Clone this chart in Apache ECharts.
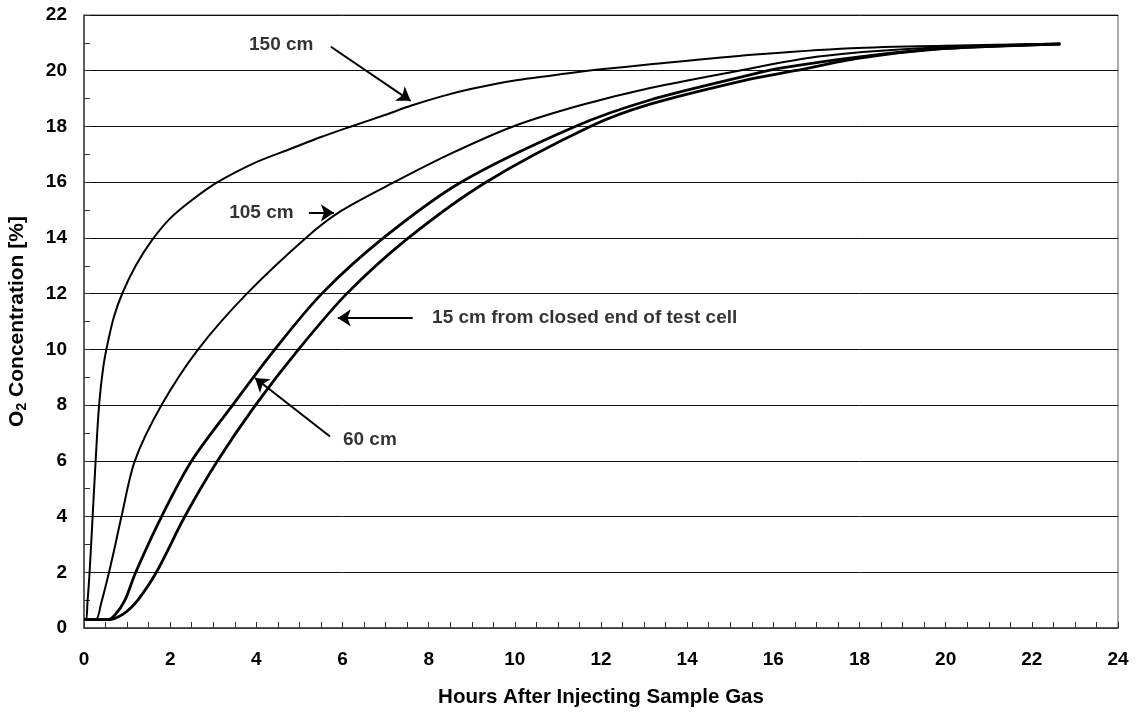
<!DOCTYPE html>
<html>
<head>
<meta charset="utf-8">
<script src="https://cdn.jsdelivr.net/npm/echarts@6/dist/echarts.min.js"></script>
<style>
html,body{margin:0;padding:0;background:#fff;}
#chart{width:1140px;height:713px;}
</style>
</head>
<body>
<div id="chart"></div>
<script>
// ---- data (hours, O2 %) ----
const curve150 = [[0,0.3],[0.05,0.3],[0.08,0.9],[0.13,2],[0.2,4],[0.27,6],[0.35,8],[0.45,9.4],[0.56,10.3],[0.7,11.2],[0.9,12.05],[1.2,13.0],[1.57,13.9],[2.0,14.7],[2.5,15.35],[3.1,16],[4.0,16.72],[4.8,17.2],[5.5,17.62],[6.2,18],[7.0,18.42],[7.6,18.75],[8.3,19.08],[9.0,19.35],[10.0,19.65],[11.2,19.9],[12.0,20.05],[13.1,20.22],[15.5,20.57],[17.8,20.81],[20.0,20.9],[22.66,20.96]];
const curve105 = [[0,0.3],[0.27,0.3],[0.4,0.9],[0.55,1.8],[0.7,2.8],[0.87,4],[1.18,6],[1.8,8],[2.65,10],[3.78,12],[5.15,14],[5.95,14.95],[7.2,16],[8.55,17.05],[9.96,18],[11.5,18.75],[13.14,19.38],[15.2,20],[17.0,20.5],[19.3,20.8],[22.66,20.96]];
const curve60 = [[0,0.3],[0.55,0.3],[0.72,0.47],[0.95,1],[1.2,2],[1.8,4],[2.5,6],[3.45,8],[4.43,10],[5.52,12],[6.95,14],[8.75,16],[11.4,18],[13.14,18.95],[15.46,19.85],[16.2,20.1],[18.0,20.5],[20.0,20.8],[22.66,20.96]];
const curve15 = [[0,0.3],[0.6,0.3],[0.8,0.4],[1.0,0.6],[1.25,1.0],[1.68,2],[2.34,4],[3.1,6],[3.98,8],[4.98,10],[6.1,12],[7.53,14],[9.33,16],[11.75,18],[13.14,18.8],[15.46,19.7],[16.5,20],[18.0,20.45],[20.0,20.8],[22.66,20.96]];

const xTicks = [0,2,4,6,8,10,12,14,16,18,20,22,24];
const yTicks = [0,2,4,6,8,10,12,14,16,18,20,22];

// annotation texts and arrows (in data units)
const labelTexts = ['150 cm','105 cm','15 cm from closed end of test cell','60 cm'];
const labelAnchors = [[3.83,20.93],[3.37,14.9],[8.08,11.13],[6.01,6.75]];
const arrows = [
  [[5.73,20.86],[7.58,18.92]],
  [[5.22,14.9],[5.8,14.9]],
  [[7.63,11.13],[5.89,11.13]],
  [[5.71,6.87],[3.97,8.97]]
];

const FONT = '"Liberation Sans", Arial, sans-serif';
const chart = echarts.init(document.getElementById('chart'));

function lineSeries(name, data, width){
  return {
    name, type:'line', data, showSymbol:false, symbol:'none',
    smooth:0.3,
    lineStyle:{color:'#000', width}, z:3, animation:false
  };
}

const option = {
  animation:false,
  backgroundColor:'#fff',
  grid:{left:84, right:22, top:15, bottom:85, show:true, borderColor:'#555', borderWidth:1,
        containLabel:false, outerBoundsMode:'none'},
  xAxis:{
    type:'value', min:0, max:24, interval:2,
    axisLine:{show:true, lineStyle:{color:'#444', width:1.5}},
    axisTick:{show:true, inside:true, length:6, lineStyle:{color:'#333'}},
    minorTick:{show:true, splitNumber:4, length:6, lineStyle:{color:'#333'}},
    splitLine:{show:false},
    axisLabel:{
      color:'#000', fontSize:19, fontWeight:'bold', fontFamily:FONT, margin:22,
      formatter:(v)=> xTicks.includes(v) ? String(v) : ''
    },
    name:'Hours After Injecting Sample Gas', nameLocation:'middle', nameGap:59,
    nameTextStyle:{color:'#000', fontSize:20.5, fontWeight:'bold', fontFamily:FONT}
  },
  yAxis:{
    type:'value', min:0, max:22, interval:2,
    axisLine:{show:true, lineStyle:{color:'#444', width:1.5}},
    axisTick:{show:true, inside:true, length:6, lineStyle:{color:'#333'}},
    minorTick:{show:true, splitNumber:2, length:6, lineStyle:{color:'#333'}},
    splitLine:{show:true, lineStyle:{color:'#111', width:1}},
    axisLabel:{
      color:'#000', fontSize:19, fontWeight:'bold', fontFamily:FONT, margin:17,
      formatter:(v)=> yTicks.includes(v) ? String(v) : ''
    },
    name:'{a|O}{s|2}{a| Concentration [%]}', nameLocation:'middle', nameGap:55,
    nameTextStyle:{
      color:'#000', fontFamily:FONT,
      rich:{
        a:{fontSize:21, fontWeight:'bold', fontFamily:FONT, color:'#000', lineHeight:24},
        s:{fontSize:14, fontWeight:'bold', fontFamily:FONT, color:'#000', verticalAlign:'bottom', lineHeight:16, padding:[9,0,0,0]}
      }
    }
  },
  series:[
    lineSeries('150 cm', curve150, 2),
    lineSeries('105 cm', curve105, 2),
    lineSeries('60 cm', curve60, 2.8),
    lineSeries('15 cm', curve15, 2.8),
    {
      type:'lines', coordinateSystem:'cartesian2d', polyline:false, z:5,
      data: arrows.map(c=>({coords:c})),
      symbol:['none','arrow'], symbolSize:[0,13],
      lineStyle:{color:'#000', width:2, opacity:1, curveness:0},
      animation:false, silent:true
    },
    {
      type:'scatter', symbolSize:0, z:6, silent:true,
      data: labelAnchors.map((p,i)=>({value:p, name:labelTexts[i]})),
      label:{
        show:true, position:'right', distance:0,
        formatter:(p)=>p.name,
        color:'#000', fontSize:19, fontWeight:'bold', fontFamily:FONT
      }
    }
  ]
};
chart.setOption(option);
</script>
</body>
</html>
